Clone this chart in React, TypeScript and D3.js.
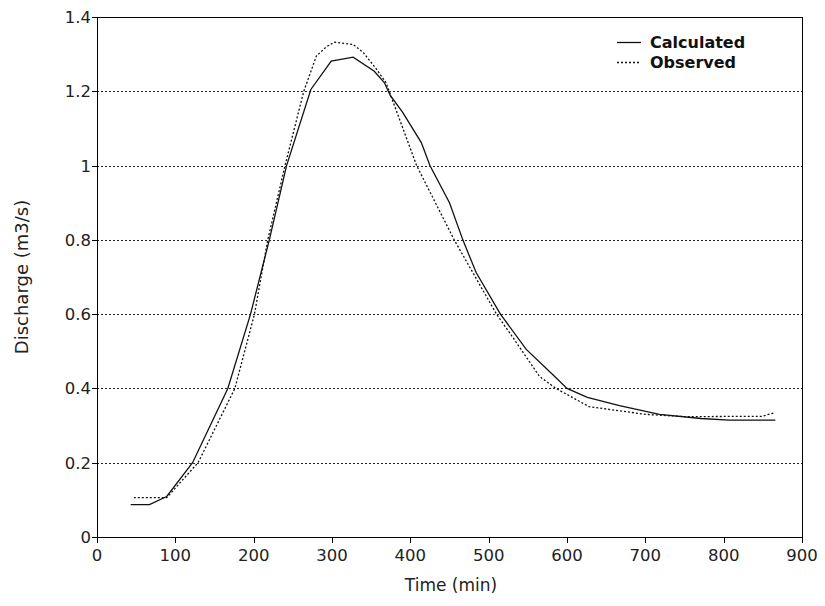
import React from "react";
import * as d3 from "d3";

const calcTime = [43, 67, 89, 122, 167, 196, 220, 242, 273, 299, 327, 354, 367, 374, 390, 414, 425, 450, 467, 484, 515, 548, 584, 600, 626, 667, 718, 771, 807, 866];
const calcQ = [0.087, 0.087, 0.109, 0.2, 0.4, 0.6, 0.8, 1.0, 1.205, 1.281, 1.292, 1.254, 1.223, 1.19, 1.144, 1.062, 1.0, 0.9, 0.8, 0.712, 0.6, 0.505, 0.433, 0.4, 0.376, 0.354, 0.33, 0.319, 0.3145, 0.3145];

const obsTime = [47, 89, 129, 176, 201, 218, 240, 264, 274, 280, 293, 303, 327, 340, 357, 369, 408, 456, 510, 530, 565, 586, 628, 701, 752, 849, 864];
const obsQ = [0.106, 0.106, 0.2, 0.4, 0.6, 0.8, 1.0, 1.2, 1.259, 1.295, 1.32, 1.332, 1.326, 1.304, 1.259, 1.223, 1.0, 0.8, 0.6, 0.54, 0.432, 0.4, 0.351, 0.33, 0.324, 0.325, 0.334];

const xTicks = [0, 100, 200, 300, 400, 500, 600, 700, 800, 900];
const yTicks = [0, 0.2, 0.4, 0.6, 0.8, 1, 1.2, 1.4];
const yTickLabels = ["0", "0.2", "0.4", "0.6", "0.8", "1", "1.2", "1.4"];
const seriesNames = ["Calculated", "Observed"];

const FONT = "DejaVu Sans, Verdana, sans-serif";

export default function App() {
  const left = 97, right = 802, top = 17, bottom = 537;
  const x = d3.scaleLinear().domain([0, 900]).range([left, right]);
  const y = d3.scaleLinear().domain([0, 1.4]).range([bottom, top]);
  const line = d3.line<[number, number]>().x(d => x(d[0])).y(d => y(d[1]));
  const calc = calcTime.map((t, i) => [t, calcQ[i]] as [number, number]);
  const obs = obsTime.map((t, i) => [t, obsQ[i]] as [number, number]);

  return (
    <svg width={825} height={606} style={{ position: "absolute", left: 0, top: 0, background: "#fff" }}>
      <rect x={0} y={0} width={825} height={606} fill="#fff" />
      {yTicks.filter(v => v > 0 && v < 1.4).map(v => (
        <line key={"g" + v} x1={left} x2={right} y1={Math.round(y(v)) + 0.5} y2={Math.round(y(v)) + 0.5}
          stroke="#222" strokeWidth={1} strokeDasharray="2,2" />
      ))}
      <rect x={left + 0.5} y={top + 0.5} width={right - left} height={bottom - top} fill="none" stroke="#000" strokeWidth={1} />
      {yTicks.map((v, i) => (
        <g key={"y" + v}>
          <line x1={left - 5} x2={left} y1={Math.round(y(v)) + 0.5} y2={Math.round(y(v)) + 0.5} stroke="#000" />
          <text x={left - 6} y={y(v)} dy="0.36em" textAnchor="end" fontFamily={FONT} fontSize={16.5} fill="#222">{yTickLabels[i]}</text>
        </g>
      ))}
      {xTicks.map(v => (
        <g key={"x" + v}>
          <line x1={Math.round(x(v)) + 0.5} x2={Math.round(x(v)) + 0.5} y1={bottom} y2={bottom + 6} stroke="#000" />
          <text x={x(v)} y={bottom + 24} textAnchor="middle" fontFamily={FONT} fontSize={16.5} fill="#222">{v}</text>
        </g>
      ))}
      <path d={line(obs) || ""} fill="none" stroke="#111" strokeWidth={1.3} strokeDasharray="2,2" />
      <path d={line(calc) || ""} fill="none" stroke="#111" strokeWidth={1.3} />
      <text x={451} y={591} textAnchor="middle" fontFamily={FONT} fontSize={17} fill="#222">Time (min)</text>
      <text transform="translate(28,277) rotate(-90)" textAnchor="middle" fontFamily={FONT} fontSize={18} fill="#222">Discharge (m3/s)</text>
      <line x1={617} x2={641} y1={42.5} y2={42.5} stroke="#111" strokeWidth={1.3} />
      <line x1={617} x2={641} y1={62.5} y2={62.5} stroke="#111" strokeWidth={1.3} strokeDasharray="2,2" />
      <text x={650} y={48} fontFamily={FONT} fontSize={16} fontWeight="bold" fill="#111">{seriesNames[0]}</text>
      <text x={650} y={68} fontFamily={FONT} fontSize={16} fontWeight="bold" fill="#111">{seriesNames[1]}</text>
    </svg>
  );
}
